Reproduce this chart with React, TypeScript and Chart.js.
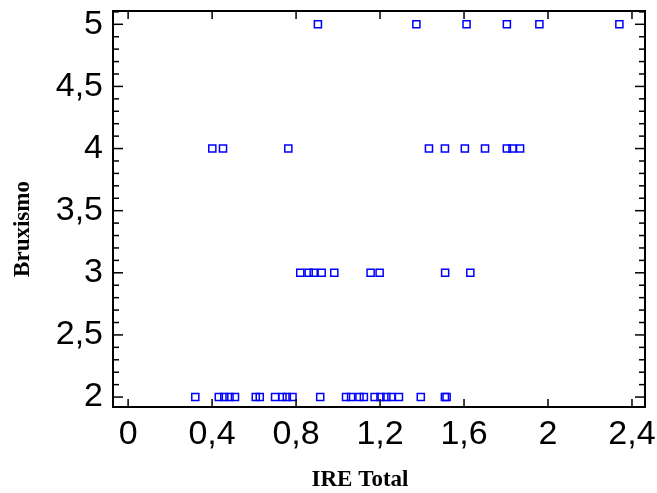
import { useEffect, useRef } from 'react';
import { Chart, registerables } from 'chart.js';

Chart.register(...registerables);

// IRE Total values for each Bruxismo level
const bruxismoLevels = [2, 3, 4, 5];
const ireAtLevel2 = [0.32, 0.432, 0.458, 0.483, 0.509, 0.608, 0.627, 0.7, 0.735, 0.756, 0.783, 0.915, 1.038, 1.062, 1.102, 1.123, 1.174, 1.202, 1.23, 1.254, 1.29, 1.394, 1.509, 1.517];
const ireAtLevel3 = [0.82, 0.86, 0.884, 0.922, 0.982, 1.155, 1.198, 1.51, 1.63];
const ireAtLevel4 = [0.401, 0.452, 0.763, 1.433, 1.509, 1.604, 1.7, 1.804, 1.831, 1.867];
const ireAtLevel5 = [0.904, 1.373, 1.612, 1.804, 1.959, 2.34];

const xTickValues = [0, 0.4, 0.8, 1.2, 1.6, 2, 2.4];
const yTickValues = [2, 2.5, 3, 3.5, 4, 4.5, 5];
const yMinorStep = 0.1;

const xMin = -0.072;
const xMax = 2.462;
const yMin = 1.92;
const yMax = 5.107;

const xTitle = 'IRE Total';
const yTitle = 'Bruxismo';

const fmt = (v: number) => (Math.round(v * 10) / 10).toString().replace('.', ',');

const framePlugin = {
  id: 'framePlugin',
  afterDraw(chart: any) {
    const { ctx, chartArea: a, scales } = chart;
    const x = scales.x;
    const y = scales.y;
    ctx.save();
    ctx.strokeStyle = '#000';
    ctx.lineWidth = 2;
    ctx.strokeRect(a.left, a.top, a.right - a.left, a.bottom - a.top);
    ctx.lineWidth = 1.5;
    const line = (x1: number, y1: number, x2: number, y2: number) => {
      ctx.beginPath();
      ctx.moveTo(x1, y1);
      ctx.lineTo(x2, y2);
      ctx.stroke();
    };
    xTickValues.forEach((v) => {
      const px = x.getPixelForValue(v);
      line(px, a.bottom, px, a.bottom - 8);
      line(px, a.top, px, a.top + 8);
    });
    const start = Math.ceil(yMin / yMinorStep);
    for (let i = start; i * yMinorStep <= yMax + 1e-9; i++) {
      const v = i * yMinorStep;
      const major = i % 5 === 0;
      const len = major ? 10 : 6;
      const py = y.getPixelForValue(v);
      line(a.left, py, a.left + len, py);
      line(a.right, py, a.right - len, py);
    }
    ctx.fillStyle = '#000';
    ctx.font = 'bold 23px "Liberation Serif", "Times New Roman", serif';
    ctx.textAlign = 'center';
    ctx.textBaseline = 'middle';
    ctx.fillText(xTitle, (a.left + a.right) / 2 - 19, a.bottom + 73);
    ctx.translate(23, (a.top + a.bottom) / 2 + 20);
    ctx.rotate(-Math.PI / 2);
    ctx.fillText(yTitle, 0, 0);
    ctx.restore();
  },
};

export default function App() {
  const ref = useRef<HTMLCanvasElement>(null);
  useEffect(() => {
    if (!ref.current) return;
    const levelData = [ireAtLevel2, ireAtLevel3, ireAtLevel4, ireAtLevel5];
    const points: { x: number; y: number }[] = [];
    levelData.forEach((arr, i) => arr.forEach((v) => points.push({ x: v, y: bruxismoLevels[i] })));
    const tickFont = { family: '"Liberation Sans", Arial, sans-serif', size: 34 };
    const chart = new Chart(ref.current, {
      type: 'scatter',
      data: {
        datasets: [
          {
            data: points,
            pointStyle: 'rect',
            pointRadius: 5,
            pointHoverRadius: 5,
            borderWidth: 1.5,
            borderColor: 'rgb(0,0,255)',
            backgroundColor: 'rgba(0,0,0,0)',
          },
        ],
      },
      options: {
        animation: false,
        responsive: false,
        layout: { padding: { top: 11, right: 12, left: 0, bottom: 0 } },
        plugins: { legend: { display: false }, tooltip: { enabled: false } },
        scales: {
          x: {
            type: 'linear',
            min: xMin,
            max: xMax,
            afterFit: (s: any) => {
              s.height = 86;
              s.paddingLeft = 0;
              s.paddingRight = 0;
              s.paddingTop = 0;
              s.paddingBottom = 0;
            },
            afterBuildTicks: (s: any) => { s.ticks = xTickValues.map((v) => ({ value: v })); },
            grid: { display: false, drawTicks: false },
            border: { display: false },
            ticks: { font: tickFont, color: '#000', padding: 7, maxRotation: 0, autoSkip: false, callback: (v: any) => fmt(Number(v)) },
          },
          y: {
            type: 'linear',
            min: yMin,
            max: yMax,
            afterFit: (s: any) => {
              s.width = 113;
              s.paddingLeft = 0;
              s.paddingRight = 0;
              s.paddingTop = 0;
              s.paddingBottom = 0;
            },
            afterBuildTicks: (s: any) => { s.ticks = yTickValues.map((v) => ({ value: v })); },
            grid: { display: false, drawTicks: false },
            border: { display: false },
            ticks: { font: tickFont, color: '#000', padding: 10, autoSkip: false, callback: (v: any) => fmt(Number(v)) },
          },
        },
      },
      plugins: [framePlugin],
    });
    return () => chart.destroy();
  }, []);
  return (
    <div style={{ position: 'absolute', left: 0, top: 0, width: 657, height: 493, background: '#fff' }}>
      <canvas ref={ref} width={657} height={493} style={{ display: 'block' }} />
    </div>
  );
}
